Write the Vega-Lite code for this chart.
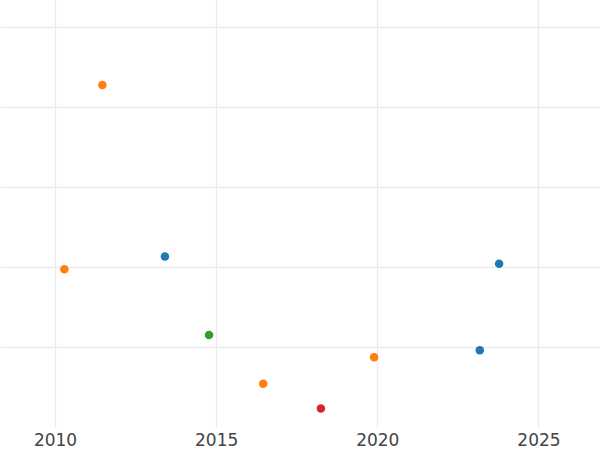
{
  "$schema": "https://vega.github.io/schema/vega-lite/v6.json",
  "width": 600,
  "height": 427,
  "padding": {"left": 0, "right": 0, "top": 0, "bottom": 23},
  "autosize": {"type": "none"},
  "background": "white",
  "config": {
    "view": {"stroke": null},
    "font": "DejaVu Sans"
  },
  "data": {
    "values": [
      {"year": 2011.47, "value": 4.27, "group": "A"},
      {"year": 2010.29, "value": 1.97, "group": "A"},
      {"year": 2013.41, "value": 2.13, "group": "B"},
      {"year": 2014.78, "value": 1.15, "group": "C"},
      {"year": 2016.46, "value": 0.54, "group": "A"},
      {"year": 2018.25, "value": 0.23, "group": "D"},
      {"year": 2019.90, "value": 0.87, "group": "A"},
      {"year": 2023.18, "value": 0.96, "group": "B"},
      {"year": 2023.78, "value": 2.04, "group": "B"}
    ]
  },
  "mark": {"type": "circle", "size": 72, "opacity": 1},
  "encoding": {
    "x": {
      "field": "year",
      "type": "quantitative",
      "scale": {"domain": [2008.293, 2026.91], "nice": false, "zero": false},
      "axis": {
        "title": null,
        "values": [2010, 2015, 2020, 2025],
        "format": "d",
        "domain": false,
        "ticks": false,
        "labelFontSize": 17,
        "labelColor": "#444444",
        "labelPadding": 5,
        "gridColor": "#ebebeb",
        "gridWidth": 1.3
      }
    },
    "y": {
      "field": "value",
      "type": "quantitative",
      "scale": {"domain": [0, 5.333], "nice": false, "zero": false},
      "axis": {
        "title": null,
        "values": [1, 2, 3, 4, 5],
        "labels": false,
        "domain": false,
        "ticks": false,
        "gridColor": "#ebebeb",
        "gridWidth": 1.3
      }
    },
    "color": {
      "field": "group",
      "type": "nominal",
      "scale": {"domain": ["B", "A", "C", "D"], "range": ["#1f77b4", "#ff7f0e", "#2ca02c", "#d62728"]},
      "legend": null
    }
  }
}
